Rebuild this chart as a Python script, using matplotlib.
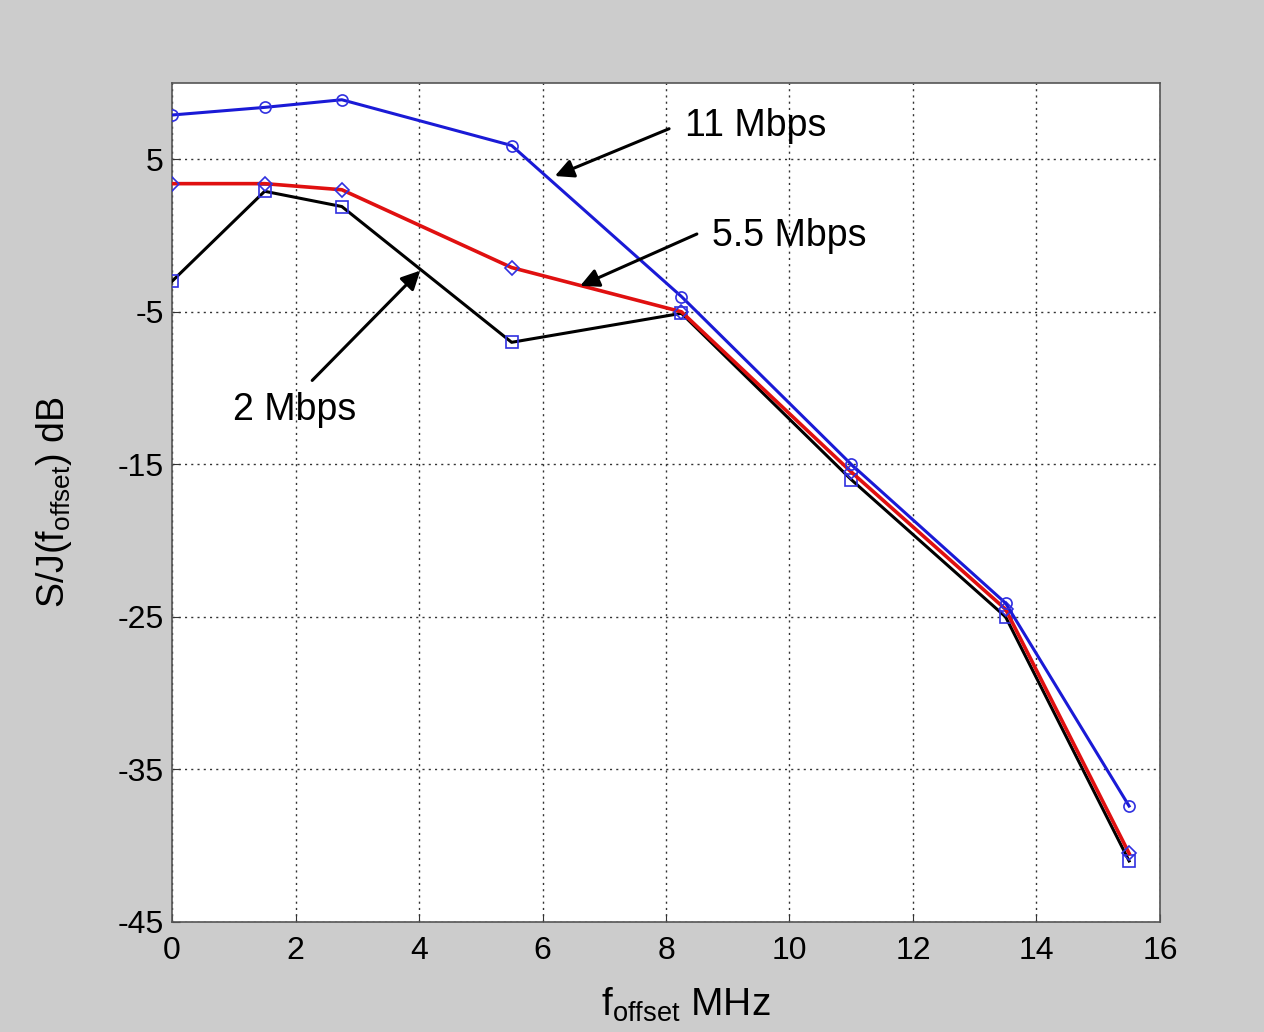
import matplotlib
matplotlib.use("Agg")
import matplotlib.pyplot as plt

plt.rcParams['font.family'] = ['Liberation Sans', 'DejaVu Sans']
plt.rcParams['mathtext.fontset'] = 'custom'
plt.rcParams['mathtext.rm'] = 'Liberation Sans'
plt.rcParams['mathtext.default'] = 'regular'
plt.rcParams['axes.unicode_minus'] = False

# Frequency offsets (MHz) and S/J values (dB) for each data rate
f_offset = [0, 1.5, 2.75, 5.5, 8.25, 11, 13.5, 15.5]
sj_11 = [7.9, 8.4, 8.9, 5.9, -4.0, -15.0, -24.1, -37.4]
sj_5_5 = [3.4, 3.4, 3.0, -2.1, -5.0, -15.5, -24.5, -40.5]
sj_2 = [-3.0, 2.9, 1.9, -7.0, -5.1, -16.0, -25.0, -41.0]

x_ticks = [0, 2, 4, 6, 8, 10, 12, 14, 16]
y_ticks = [5, -5, -15, -25, -35, -45]

fig = plt.figure(figsize=(12.64, 10.32), dpi=100, facecolor='#cccccc')
ax = fig.add_axes([0.1361, 0.1066, 0.7816, 0.8130])
ax.set_facecolor('white')

marker_col = '#3030e0'
ax.plot(f_offset, sj_2, color='black', lw=2.2, marker='s', ms=8,
        mfc='none', mec=marker_col, mew=1.2, zorder=3)
ax.plot(f_offset, sj_5_5, color='#e01010', lw=2.6, marker='D', ms=7,
        mfc='none', mec=marker_col, mew=1.2, zorder=4)
ax.plot(f_offset, sj_11, color='#1a1ad6', lw=2.2, marker='o', ms=8,
        mfc='none', mec=marker_col, mew=1.2, zorder=5)

ax.set_xlim(0, 16)
ax.set_ylim(-45, 10)
ax.set_xticks(x_ticks)
ax.set_yticks(y_ticks)
ax.tick_params(direction='in', labelsize=23, length=6, color='#333333')
ax.tick_params(axis='x', pad=10)
ax.tick_params(axis='y', pad=6)
ax.grid(True, color='#333333', linestyle=(0, (1.5, 3)), linewidth=1.0)
for s in ax.spines.values():
    s.set_color('#555555')
    s.set_linewidth(1.2)

ax.set_xlabel('f$_{offset}$ MHz', fontsize=28)
ax.xaxis.set_label_coords(0.52, -0.076)
ax.set_ylabel('S/J(f$_{offset}$) dB', fontsize=27)
ax.yaxis.set_label_coords(-0.099, 0.5)

arrow = dict(arrowstyle='-|>', color='black', lw=2.2, mutation_scale=28,
             shrinkA=0, shrinkB=0)
ax.annotate('', xy=(6.20, 3.9), xytext=(8.05, 7.0), arrowprops=arrow, zorder=6)
ax.text(8.3, 7.15, '11 Mbps', fontsize=27, va='center', ha='left')
ax.annotate('', xy=(6.61, -3.3), xytext=(8.5, 0.1), arrowprops=arrow, zorder=6)
ax.text(8.74, -0.05, '5.5 Mbps', fontsize=27, va='center', ha='left')
ax.annotate('', xy=(4.02, -2.3), xytext=(2.27, -9.5), arrowprops=arrow, zorder=6)
ax.text(1.99, -11.45, '2 Mbps', fontsize=27, va='center', ha='center')

fig.savefig('out.png', dpi=100, facecolor=fig.get_facecolor())
